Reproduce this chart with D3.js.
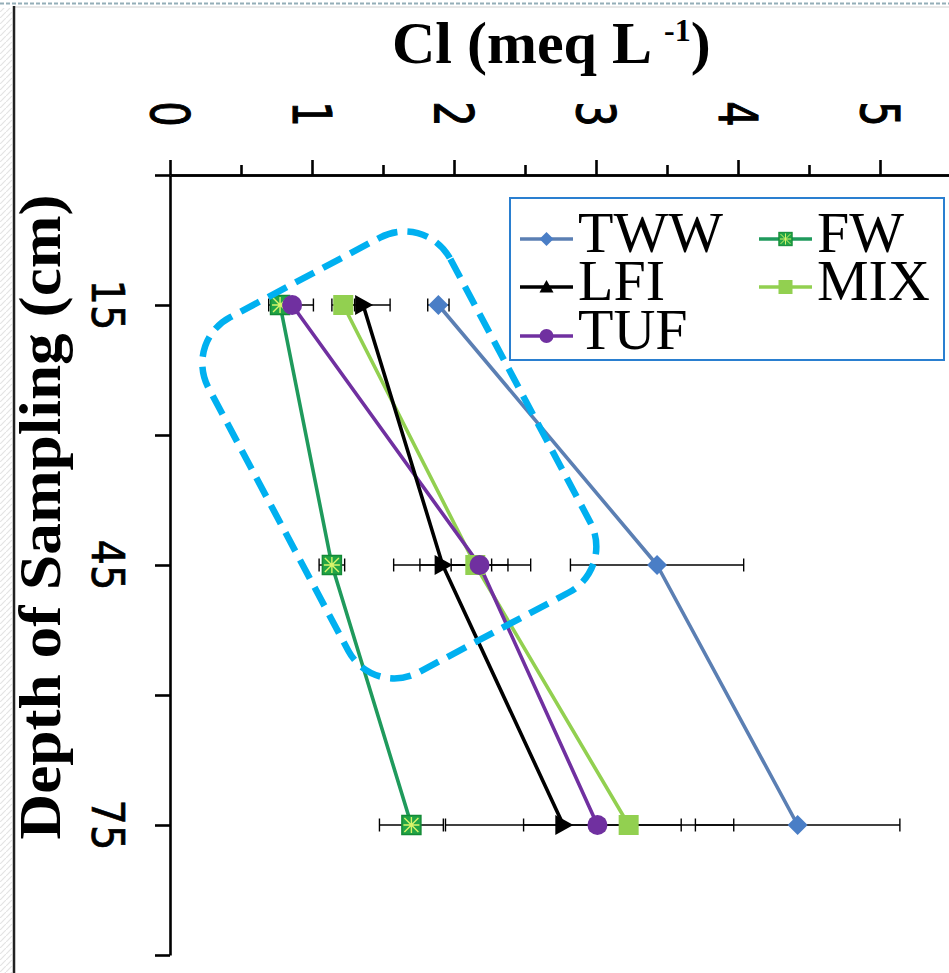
<!DOCTYPE html>
<html><head><meta charset="utf-8">
<script src="https://cdn.jsdelivr.net/npm/d3@7"></script>
<style>body{margin:0;background:#fff} svg{display:block}</style>
</head><body>
<svg id="chart" width="949" height="973"></svg>
<script>
// ---------- data ----------
const depths = [15, 45, 75];
const depthLabels = ["15", "45", "75"];
const xTickValues = [0, 1, 2, 3, 4, 5, 6];
const xTickLabels = ["0", "1", "2", "3", "4", "5"];
const seriesNames = ["TWW", "LFI", "TUF", "FW", "MIX"];
const TWW = [1.89, 3.43, 4.42];
const TWW_err = [0.075, 0.61, 0.72];
const LFI = [1.36, 1.92, 2.77];
const LFI_err = [0.19, 0.345, 0.83];
const TUF = [0.86, 2.18, 3.01];
const TUF_err = [0.15, 0.20, 0.05];
const FW = [0.775, 1.14, 1.70];
const FW_err = [0.08, 0.09, 0.225];
const MIX = [1.22, 2.15, 3.23];
const MIX_err = [0.08, 0.39, 0.74];

const seriesVals = {TWW, LFI, TUF, FW, MIX};
const seriesErr = {TWW: TWW_err, LFI: LFI_err, TUF: TUF_err, FW: FW_err, MIX: MIX_err};
const style = {
  TWW: {line: "#5b7fb3", fill: "#4a7ec6", marker: "diamond"},
  LFI: {line: "#000000", fill: "#000000", marker: "triangle"},
  TUF: {line: "#7030a0", fill: "#7030a0", marker: "circle"},
  FW:  {line: "#1f9a5c", fill: "#22a446", marker: "squareStar"},
  MIX: {line: "#92d050", fill: "#92d050", marker: "square"}
};

// ---------- setup ----------
const svg = d3.select("#chart");
const W = 949, H = 973;
svg.append("rect").attr("width", W).attr("height", H).attr("fill", "#fff");

// left hatch + frame
const defs = svg.append("defs");
const pat = defs.append("pattern").attr("id", "hatch").attr("width", 6).attr("height", 6)
  .attr("patternUnits", "userSpaceOnUse");
pat.append("path").attr("d", "M0,6 L6,0").attr("stroke", "#e4e4e4").attr("stroke-width", 1.2);
svg.append("rect").attr("x", 0).attr("y", 8).attr("width", 12).attr("height", H - 8).attr("fill", "url(#hatch)");
svg.append("line").attr("x1", 0).attr("x2", W).attr("y1", 3.5).attr("y2", 3.5)
  .attr("stroke", "#94aeb8").attr("stroke-width", 2).attr("stroke-dasharray", "4,2");
svg.append("line").attr("x1", 14).attr("x2", W).attr("y1", 7).attr("y2", 7)
  .attr("stroke", "#cfcfcf").attr("stroke-width", 1);
svg.append("line").attr("x1", 14).attr("x2", 14).attr("y1", 6).attr("y2", H)
  .attr("stroke", "#222").attr("stroke-width", 2.5);

const x = d3.scaleLinear().domain([0, 6]).range([170, 1022]);
const y = d3.scaleLinear().domain([0, 90]).range([175, 955]);

// ---------- axes ----------
const axisW = 2.6;
const minorAx = svg.append("g").attr("transform", `translate(0,${y(0)})`)
  .call(d3.axisTop(x).tickValues(d3.range(0.5, 6, 1)).tickSize(10).tickSizeOuter(0).tickFormat(""));
const majorAx = svg.append("g").attr("transform", `translate(0,${y(0)})`)
  .call(d3.axisTop(x).tickValues(xTickValues).tickSize(15).tickSizeOuter(0).tickFormat(""));
const yAx = svg.append("g").attr("transform", `translate(${x(0)},0)`)
  .call(d3.axisLeft(y).tickValues([0, 15, 30, 45, 60, 75, 90]).tickSize(15).tickSizeOuter(0).tickFormat(""));
[minorAx, majorAx, yAx].forEach(g => {
  g.selectAll("path,line").attr("stroke", "#000").attr("stroke-width", axisW);
});

// x tick labels (rotated)
svg.append("g").selectAll("text").data(xTickLabels).join("text")
  .attr("transform", (d, i) => `translate(${x(xTickValues[i])},114) rotate(90) scale(1,1.35)`)
  .attr("text-anchor", "middle").attr("dominant-baseline", "central")
  .attr("font-family", "DejaVu Sans").attr("font-size", 40).attr("fill", "#000")
  .attr("stroke", "#000").attr("stroke-width", 0.8)
  .text(d => d);

// y tick labels (rotated)
svg.append("g").selectAll("text").data(depths).join("text")
  .attr("transform", (d) => `translate(107,${y(d)}) rotate(90) scale(1,1.12)`)
  .attr("text-anchor", "middle").attr("dominant-baseline", "central")
  .attr("font-family", "DejaVu Sans").attr("font-size", 40).attr("fill", "#000")
  .attr("stroke", "#000").attr("stroke-width", 0.6)
  .text((d, i) => depthLabels[i]);

// titles
const xt = svg.append("text").attr("x", 392).attr("y", 63)
  .attr("font-family", "Liberation Serif").attr("font-weight", "bold").attr("font-size", 60).attr("fill", "#000");
xt.append("tspan").text("Cl (meq L");
xt.append("tspan").attr("dx", 12).attr("dy", -22).attr("font-size", 32).text("-1");
xt.append("tspan").attr("dy", 22).text(")");

svg.append("text").attr("transform", "translate(60,517) rotate(-90)")
  .attr("text-anchor", "middle")
  .attr("font-family", "Liberation Serif").attr("font-weight", "bold").attr("font-size", 60)
  .attr("textLength", 645).attr("lengthAdjust", "spacingAndGlyphs").attr("fill", "#000")
  .text("Depth of Sampling (cm)");

// ---------- markers ----------
function marker(g, type, cx, cy, s, st, up) {
  const m = g.append("g").attr("transform", `translate(${cx},${cy}) scale(${s})`);
  if (type === "diamond") {
    m.append("path").attr("d", "M0,-10 L10,0 L0,10 L-10,0 Z").attr("fill", st.fill);
  } else if (type === "triangle") {
    m.append("path").attr("d", up ? "M-10,8 L0,-10 L10,8 Z" : "M-8,-10 L10,0 L-8,10 Z").attr("fill", st.fill);
  } else if (type === "circle") {
    m.append("circle").attr("r", 10).attr("fill", st.fill);
  } else if (type === "square") {
    m.append("rect").attr("x", -10).attr("y", -10).attr("width", 20).attr("height", 20).attr("fill", st.fill);
  } else if (type === "squareStar") {
    m.append("rect").attr("x", -9.5).attr("y", -9.5).attr("width", 19).attr("height", 19)
      .attr("fill", st.fill).attr("stroke", "#138a36").attr("stroke-width", 1.5);
    m.append("path").attr("d", "M-8,0 L8,0 M0,-8 L0,8 M-7,-7 L7,7 M-7,7 L7,-7")
      .attr("stroke", "#d8f56a").attr("stroke-width", 1.4);
  }
}

// ---------- series ----------
const drawOrder = ["MIX", "FW", "TWW", "TUF", "LFI"];
const markerOrder = ["MIX", "FW", "TWW", "LFI", "TUF"];
const plot = svg.append("g");
const line = d3.line().x(d => x(d[0])).y(d => y(d[1]));

drawOrder.forEach(name => {
  const pts = depths.map((dp, i) => [seriesVals[name][i], dp]);
  plot.append("path").attr("d", line(pts)).attr("fill", "none")
    .attr("stroke", style[name].line).attr("stroke-width", 3.6).attr("stroke-linejoin", "round");
});

// error bars
const eb = plot.append("g").attr("stroke", "#000").attr("stroke-width", 1.4);
seriesNames.forEach(name => {
  depths.forEach((dp, i) => {
    const v = seriesVals[name][i], e = seriesErr[name][i];
    const yy = y(dp);
    eb.append("line").attr("x1", x(v - e)).attr("x2", x(v + e)).attr("y1", yy).attr("y2", yy);
    [v - e, v + e].forEach(c => {
      eb.append("line").attr("x1", x(c)).attr("x2", x(c)).attr("y1", yy - 6.5).attr("y2", yy + 6.5);
    });
  });
});

markerOrder.forEach(name => {
  depths.forEach((dp, i) => {
    marker(plot, style[name].marker, x(seriesVals[name][i]), y(dp), 1, style[name], false);
  });
});

// ---------- annotation: dashed rounded rectangle ----------
const annoCl = 1.615, annoDepth = 32.3;
svg.append("rect")
  .attr("transform", `translate(${x(annoCl)},${y(annoDepth)}) rotate(62)`)
  .attr("x", -201).attr("y", -137).attr("width", 402).attr("height", 274)
  .attr("rx", 52).attr("ry", 52)
  .attr("fill", "none").attr("stroke", "#00b0f0").attr("stroke-width", 6.5)
  .attr("stroke-dasharray", "21,10");

// ---------- legend ----------
const lg = svg.append("g");
lg.append("rect").attr("x", 510).attr("y", 198).attr("width", 434).attr("height", 162)
  .attr("fill", "#fff").attr("stroke", "#2a7fd0").attr("stroke-width", 2);
const legendPos = {
  TWW: [520, 252], LFI: [520, 300], TUF: [520, 349],
  FW: [759, 252], MIX: [759, 300]
};
seriesNames.forEach(name => {
  const [lx, by] = legendPos[name];
  const ly = by - 13;
  lg.append("line").attr("x1", lx).attr("x2", lx + 53).attr("y1", ly).attr("y2", ly)
    .attr("stroke", style[name].line).attr("stroke-width", 3.6);
  marker(lg, style[name].marker, lx + 26.5, ly, 0.7, style[name], true);
  lg.append("text").attr("x", lx + 58).attr("y", by)
    .attr("font-family", "Liberation Serif").attr("font-size", 58).attr("fill", "#000")
    .text(name);
});
</script>
</body></html>
